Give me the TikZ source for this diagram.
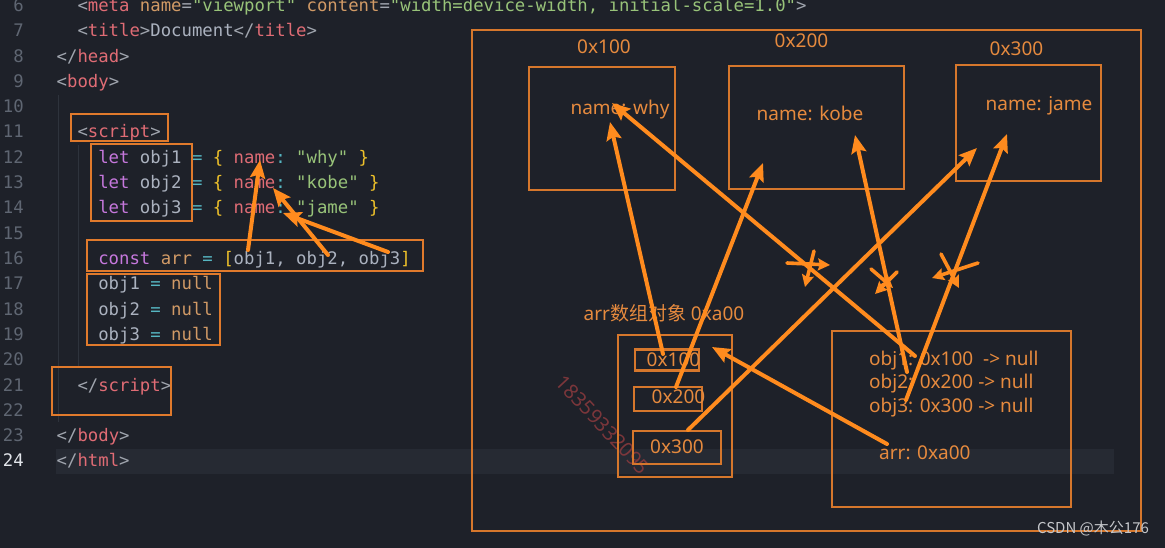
\documentclass[tikz,border=0pt]{standalone}
\usepackage{fontspec}
\setmonofont{DejaVu Sans Mono}
\newfontfamily\diagfont{Noto Sans}
\newfontfamily\cjkfont{Noto Sans CJK SC}
\usepackage{xcolor}
\usetikzlibrary{arrows.meta, positioning}

\definecolor{bgc}{HTML}{1E2129}
\definecolor{hlc}{HTML}{262A33}
\definecolor{guidec}{HTML}{2E333C}
\definecolor{punc}{HTML}{A0A5AE}
\definecolor{tagc}{HTML}{E06C75}
\definecolor{attc}{HTML}{D19A66}
\definecolor{strc}{HTML}{98C379}
\definecolor{kwc}{HTML}{C678DD}
\definecolor{varc}{HTML}{ABB2BF}
\definecolor{opc}{HTML}{56B6C2}
\definecolor{brcc}{HTML}{EEC12A}
\definecolor{numc}{HTML}{5F6672}
\definecolor{curnumc}{HTML}{E2E5EA}
\definecolor{codeboxc}{HTML}{E07A2C}
\definecolor{memc}{HTML}{D6772C}
\definecolor{memtxt}{HTML}{E68A3E}
\definecolor{arrc}{HTML}{FF8B1E}
\definecolor{wmc}{HTML}{8C3A3E}
\definecolor{csdnc}{HTML}{C4C6CA}

\newcommand{\pun}[1]{\textcolor{punc}{#1}}
\newcommand{\tagn}[1]{\textcolor{tagc}{#1}}
\newcommand{\attr}[1]{\textcolor{attc}{#1}}
\newcommand{\strg}[1]{\textcolor{strc}{#1}}
\newcommand{\kwd}[1]{\textcolor{kwc}{#1}}
\newcommand{\vrb}[1]{\textcolor{varc}{#1}}
\newcommand{\opr}[1]{\textcolor{opc}{#1}}
\newcommand{\brc}[1]{\textcolor{brcc}{#1}}

\begin{document}
\begin{tikzpicture}[x=1pt, y=-1pt,
    codeline/.style={anchor=base west, inner sep=0pt, text=varc,
        font=\ttfamily\fontsize{17.3}{20}\selectfont},
    lnum/.style={anchor=base east, inner sep=0pt, text=numc,
        font=\ttfamily\fontsize{17.3}{20}\selectfont},
    codebox/.style={draw=codeboxc, line width=2pt, inner sep=0pt},
    membox/.style={draw=memc, line width=2.2pt, inner sep=0pt},
    memtext/.style={inner sep=0pt, text=memtxt,
        font=\diagfont\fontsize{19}{22}\selectfont},
    ptr/.style={draw=arrc, line width=4pt, line cap=round,
        -{Stealth[length=18pt, width=15pt, inset=3pt]}},
    cross/.style={draw=arrc, line width=3.6pt, line cap=round,
        -{Stealth[length=12pt, width=12pt, inset=2pt]}}]
    % Fond
    \useasboundingbox (0,0) rectangle (1165,548);
    \fill[bgc] (0,0) rectangle (1165,548);
    \fill[hlc] (56,449) rectangle (1114,474);
    \draw[guidec, line width=1pt] (58,95) -- (58,422);
    \draw[guidec, line width=1pt] (78,145) -- (78,368);
    % Filigrane
    \node[rotate=-47, text=wmc, opacity=.85, inner sep=0pt,
        font=\diagfont\fontsize{20}{22}\selectfont] (wm) at (603,425) {18359332095};
    % Code
    \node[codeline] (l6) at (77.3,11.5) {\pun{<}\tagn{meta} \attr{name}\pun{=}\strg{"viewport"} \attr{content}\pun{=}\strg{"width=device-width, initial-scale=1.0"}\pun{>}};
    \node[codeline] (l7) at (77.3,36.8) {\pun{<}\tagn{title}\pun{>}\vrb{Document}\pun{</}\tagn{title}\pun{>}};
    \node[codeline] (l8) at (56.5,62.1) {\pun{</}\tagn{head}\pun{>}};
    \node[codeline] (l9) at (56.5,87.4) {\pun{<}\tagn{body}\pun{>}};
    \node[codeline] (l11) at (77.3,138.0) {\pun{<}\tagn{script}\pun{>}};
    \node[codeline] (l12) at (98.1,163.3) {\kwd{let} obj1 \opr{=} \brc{\{} \tagn{name}\opr{:} \strg{"why"} \brc{\}}};
    \node[codeline] (l13) at (98.1,188.6) {\kwd{let} obj2 \opr{=} \brc{\{} \tagn{name}\opr{:} \strg{"kobe"} \brc{\}}};
    \node[codeline] (l14) at (98.1,213.9) {\kwd{let} obj3 \opr{=} \brc{\{} \tagn{name}\opr{:} \strg{"jame"} \brc{\}}};
    \node[codeline] (l16) at (98.1,264.5) {\kwd{const} \attr{arr} \opr{=} \brc{[}obj1, obj2, obj3\brc{]}};
    \node[codeline] (l17) at (98.1,289.8) {obj1 \opr{=} \attr{null}};
    \node[codeline] (l18) at (98.1,315.1) {obj2 \opr{=} \attr{null}};
    \node[codeline] (l19) at (98.1,340.4) {obj3 \opr{=} \attr{null}};
    \node[codeline] (l21) at (77.3,391.0) {\pun{</}\tagn{script}\pun{>}};
    \node[codeline] (l23) at (56.5,441.6) {\pun{</}\tagn{body}\pun{>}};
    \node[codeline] (l24) at (56.5,466.9) {\pun{</}\tagn{html}\pun{>}};
    % Numeros de ligne
    \foreach \n in {6,...,23}
        \node[lnum] (ln\n) at (24,{11.5+(\n-6)*25.3}) {\n};
    \node[lnum, text=curnumc] (ln24) at (24,466.9) {24};
    % Cadres sur le code
    \node[codebox, minimum width=97, minimum height=27] (bScript) at (119.5,127.5) {};
    \node[codebox, minimum width=101, minimum height=77] (bLet) at (141.5,182.5) {};
    \node[codebox, minimum width=336, minimum height=31] (bConst) at (255,255.5) {};
    \node[codebox, minimum width=133, minimum height=71] (bNull) at (153.5,309.5) {};
    \node[codebox, minimum width=119, minimum height=48] (bEnd) at (111.5,391) {};
    % Memoire
    \node[membox, minimum width=669, minimum height=501] (heap) at (806.5,280.5) {};
    \node[membox, minimum width=146, minimum height=123] (m100) at (602,128.5) {};
    \node[membox, minimum width=175, minimum height=123] (m200) at (816.5,127.5) {};
    \node[membox, minimum width=145, minimum height=116] (m300) at (1028.5,123) {};
    \node[memtext] (lbl100) at (604,47) {0x100};
    \node[memtext] (lbl200) at (801.5,41) {0x200};
    \node[memtext] (lbl300) at (1016.5,49) {0x300};
    \node[memtext] (why) at (620,110) {name: why};
    \node[memtext] (kobe) at (810,113) {name: kobe};
    \node[memtext] (jame) at (1039,106) {name: jame};
    % Tableau arr
    \node[memtext] (arrLbl) at (664,313) {arr{\cjkfont 数组对象} 0xa00};
    \node[membox, minimum width=114, minimum height=142] (arrBox) at (675,406) {};
    \node[membox, minimum width=64.5, minimum height=21] (s100) at (667,360) {};
    \node[membox, minimum width=68, minimum height=24] (s200) at (668,399) {};
    \node[membox, minimum width=88, minimum height=33] (s300) at (677,447.5) {};
    \node[memtext] (t100) at (673.5,360) {0x100};
    \node[memtext] (t200) at (678.5,397) {0x200};
    \node[memtext] (t300) at (677,447) {0x300};
    % Pile
    \node[membox, minimum width=239, minimum height=176] (stack) at (951.5,419) {};
    \node[memtext, anchor=west] (v1) at (869,361) {obj1: 0x100\ \ -> null};
    \node[memtext, anchor=west] (v2) at (869,384) {obj2: 0x200 -> null};
    \node[memtext, anchor=west] (v3) at (869,408) {obj3: 0x300 -> null};
    \node[memtext, anchor=west] (v4) at (879,453) {arr: 0xa00};
    % Signature
    \node[inner sep=0pt, text=csdnc, font=\cjkfont\fontsize{15}{17}\selectfont] (csdn) at (1093,529) {CSDN @木公176};
    % Fleches du code
    \coordinate (c1a) at (248,250);
    \coordinate (c1b) at (260,160);
    \coordinate (c2a) at (328,255);
    \coordinate (c2b) at (273,188);
    \coordinate (c3a) at (388,252);
    \coordinate (c3b) at (283,213);
    \draw[ptr] (c1a) -- (c1b);
    \draw[ptr] (c2a) -- (c2b);
    \draw[ptr] (c3a) -- (c3b);
    % Fleches de la memoire
    \coordinate (p100a) at (663,354);
    \coordinate (p100b) at (610,122);
    \coordinate (p200a) at (676,387);
    \coordinate (p200b) at (763,163);
    \coordinate (p300a) at (688,430);
    \coordinate (p300b) at (977,148);
    \coordinate (pArrA) at (887,444);
    \coordinate (pArrB) at (712,347);
    \coordinate (o1a) at (915,356);
    \coordinate (o1b) at (612,103);
    \coordinate (o2a) at (907,372);
    \coordinate (o2b) at (855,135);
    \coordinate (o3a) at (906,400);
    \coordinate (o3b) at (1007,134);
    \draw[ptr] (p100a) -- (p100b);
    \draw[ptr] (p200a) -- (p200b);
    \draw[ptr] (p300a) -- (p300b);
    \draw[ptr] (pArrA) -- (pArrB);
    \draw[ptr] (o1a) -- (o1b);
    \draw[ptr] (o2a) -- (o2b);
    \draw[ptr] (o3a) -- (o3b);
    % Croix
    \coordinate (x1a) at (787,263);
    \coordinate (x1b) at (830,265);
    \coordinate (x1c) at (814,251);
    \coordinate (x1d) at (805,287);
    \coordinate (x2a) at (871,269);
    \coordinate (x2b) at (893,288);
    \coordinate (x2c) at (897,272);
    \coordinate (x2d) at (875,294);
    \coordinate (x3a) at (941,254);
    \coordinate (x3b) at (959,288);
    \coordinate (x3c) at (978,263);
    \coordinate (x3d) at (932,278);
    \draw[cross] (x1a) -- (x1b);
    \draw[cross] (x1c) -- (x1d);
    \draw[cross] (x2a) -- (x2b);
    \draw[cross] (x2c) -- (x2d);
    \draw[cross] (x3a) -- (x3b);
    \draw[cross] (x3c) -- (x3d);
\end{tikzpicture}
\end{document}
